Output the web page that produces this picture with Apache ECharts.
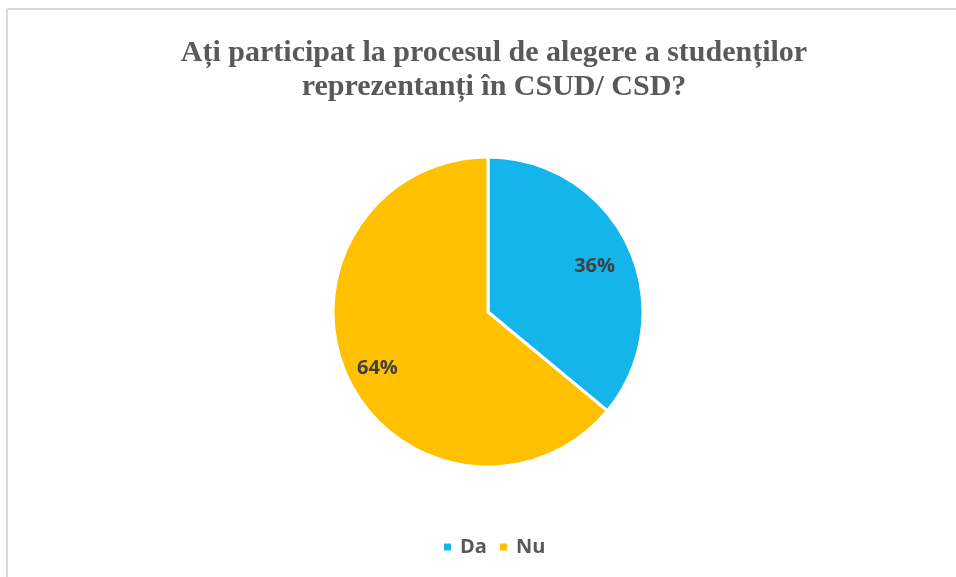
<!DOCTYPE html>
<html>
<head>
<meta charset="utf-8">
<script src="https://cdn.jsdelivr.net/npm/echarts@6/dist/echarts.min.js"></script>
<style>
    html, body { margin: 0; padding: 0; background: #fff; }
    #chart { width: 956px; height: 577px; }
</style>
</head>
<body>
<div id="chart"></div>
<script>
    // date
    const categories = ['Da', 'Nu'];
    const values = [36, 64];
    const colors = ['#13B5EA', '#FFC000'];

    const myChart = echarts.init(document.getElementById('chart'));
    const pieData = categories.map((name, i) => ({
        name: name,
        value: values[i],
        itemStyle: { color: colors[i] }
    }));

    const option = {
        animation: false,
        title: {
            text: 'Ați participat la procesul de alegere a studenților\nreprezentanți în CSUD/ CSD?',
            left: 489,
            textAlign: 'center',
            top: 31,
            textStyle: {
                fontFamily: '"Liberation Serif", "DejaVu Serif", serif',
                fontSize: 30,
                fontWeight: 'bold',
                color: '#595959',
                lineHeight: 34
            }
        },
        legend: {
            data: categories,
            bottom: 15,
            left: 437,
            icon: 'rect',
            itemWidth: 9,
            itemHeight: 9,
            itemGap: 11,
            textStyle: {
                fontFamily: '"Open Sans", "Noto Sans", sans-serif',
                fontSize: 20,
                fontWeight: 'bold',
                color: '#595959',
                padding: [0, 0, 0, 3]
            }
        },
        graphic: [
            { type: 'line', shape: { x1: 7, y1: 9, x2: 956, y2: 9 }, style: { stroke: '#d9d9d9', lineWidth: 2 } },
            { type: 'line', shape: { x1: 7, y1: 9, x2: 7, y2: 577 }, style: { stroke: '#d9d9d9', lineWidth: 2 } }
        ],
        series: [
            {
                name: 'participare',
                type: 'pie',
                center: [488, 312],
                radius: [0, 155],
                startAngle: 90,
                clockwise: true,
                data: pieData,
                label: { show: false },
                labelLine: { show: false },
                itemStyle: { borderColor: '#fff', borderWidth: 3 },
                emphasis: { disabled: true }
            },
            {
                // serie invizibila doar pentru pozitia etichetelor
                name: 'etichete',
                type: 'pie',
                center: [486, 317],
                radius: [0, 234],
                startAngle: 90,
                clockwise: true,
                silent: true,
                data: pieData.map(d => ({ name: d.name, value: d.value, itemStyle: { color: 'rgba(0,0,0,0)' } })),
                itemStyle: { borderWidth: 0 },
                label: {
                    show: true,
                    position: 'inside',
                    formatter: '{d}%',
                    fontFamily: '"Open Sans", "Noto Sans", sans-serif',
                    fontSize: 20,
                    fontWeight: 'bold',
                    color: '#404040'
                },
                labelLine: { show: false },
                emphasis: { disabled: true }
            }
        ]
    };
    myChart.setOption(option);
</script>
</body>
</html>
